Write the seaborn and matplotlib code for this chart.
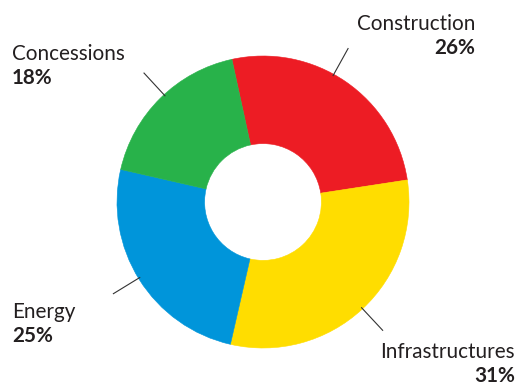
import numpy as np
import matplotlib
matplotlib.use("Agg")
import matplotlib.pyplot as plt
import seaborn as sns

# Revenue split by business line
segments = ["Construction", "Infrastructures", "Energy", "Concessions"]
shares = [26, 31, 25, 18]
colors = ["#ED1C24", "#FFDD00", "#0095DA", "#28B24A"]

sns.set_theme(style="white")
plt.rcParams["font.family"] = ["Lato", "DejaVu Sans"]

W, H = 518, 386
fig = plt.figure(figsize=(W / 100, H / 100), dpi=100)
ax = fig.add_axes([0, 0, 1, 1])

# pixel-like coordinate system (y measured from the top)
cx, cy, R = 263, 202, 146
start = 102.3
wedges, _ = ax.pie(shares, colors=colors, startangle=start, counterclock=False,
                   center=(cx, H - cy), radius=R,
                   wedgeprops=dict(width=R * 0.6, linewidth=0.4))
for w, c in zip(wedges, colors):
    w.set_edgecolor(c)
ax.set_xlim(0, W)
ax.set_ylim(0, H)
ax.set_aspect("equal")
ax.axis("off")

# leader line angles (degrees, counter-clockwise from east) and label anchors
leader_angles = [61, -47, 211.5, 132.7]
label_xy = [(475, 30), (515, 358), (12, 318), (12, 60)]
label_ha = ["right", "right", "left", "left"]
text_color = "#231F20"

for name, val, ang, (lx, ly), ha in zip(segments, shares, leader_angles, label_xy, label_ha):
    a = np.deg2rad(ang)
    r0, r1 = 144, 176
    ax.plot([cx + r0 * np.cos(a), cx + r1 * np.cos(a)],
            [H - cy + r0 * np.sin(a), H - cy + r1 * np.sin(a)],
            color="#333333", lw=0.8, solid_capstyle="butt")
    ax.text(lx, H - ly, name, ha=ha, va="baseline", fontsize=14.9,
            color=text_color)
    ax.text(lx, H - ly - 24.5, f"{val}%", ha=ha, va="baseline", fontsize=14.9,
            fontweight="bold", color=text_color)

fig.savefig("out.png", dpi=100)
